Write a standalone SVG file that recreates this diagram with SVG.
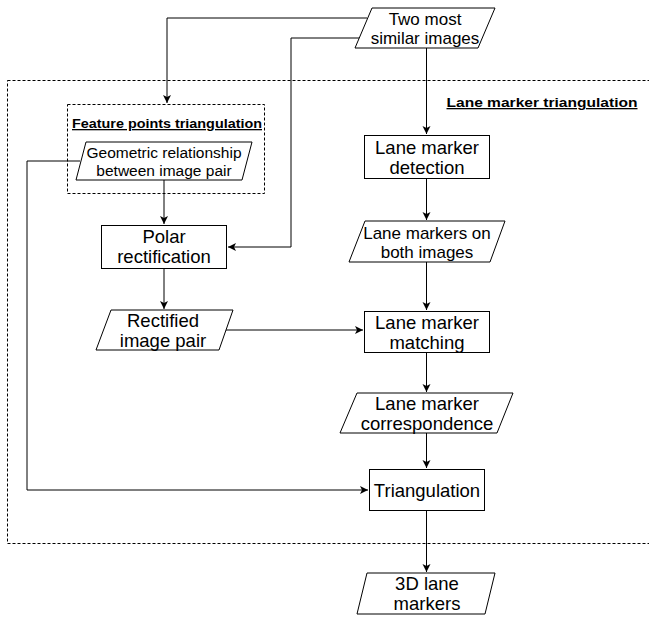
<svg xmlns="http://www.w3.org/2000/svg" width="649" height="625" viewBox="0 0 649 625">
<defs>
<marker id="arr" markerWidth="10" markerHeight="10" refX="8" refY="5" orient="auto" markerUnits="userSpaceOnUse">
<path d="M0,1 L8,5 L0,9 L2,5 Z" fill="#000"/>
</marker>
<style>
.shape{fill:#fff;stroke:#000;stroke-width:1}
.dash{fill:none;stroke:#000;stroke-width:1;stroke-dasharray:3,2}
.conn{fill:none;stroke:#000;stroke-width:1;marker-end:url(#arr)}
text{font-family:"Liberation Sans",Arial,sans-serif;fill:#000;text-anchor:middle}
.t18{font-size:18.5px}
.t17{font-size:17px}
.t15{font-size:15.5px}
.title{font-size:13px;font-weight:bold;text-decoration:underline}
</style>
</defs>
<rect width="649" height="625" fill="#fff"/>
<g id="lane-marker-triangulation-group">
<rect class="dash" x="7.5" y="80.5" width="660" height="463"/>
<text class="title" x="542" y="107" textLength="191" lengthAdjust="spacingAndGlyphs">Lane marker triangulation</text>
</g>
<g id="feature-points-group">
<rect class="dash" x="67.5" y="104.5" width="197" height="89"/>
<text class="title" x="167" y="128" textLength="190" lengthAdjust="spacingAndGlyphs">Feature points triangulation</text>
</g>
<g id="connectors">
<polyline class="conn" points="367,18 167,18 167,103"/>
<polyline class="conn" points="359,38 291,38 291,247 228,247"/>
<polyline class="conn" points="426.5,48 426.5,134"/>
<polyline class="conn" points="80,161 27,161 27,490 368,490"/>
<polyline class="conn" points="164,180 164,224"/>
<polyline class="conn" points="164,268 164,309"/>
<polyline class="conn" points="225,330 363,330"/>
<polyline class="conn" points="426.5,178 426.5,220"/>
<polyline class="conn" points="426.5,262 426.5,310"/>
<polyline class="conn" points="426.5,352 426.5,392"/>
<polyline class="conn" points="426.5,433 426.5,468"/>
<polyline class="conn" points="426.5,510 426.5,572"/>
</g>
<g id="two-most-similar-images">
<polygon class="shape" points="372,8 495,8 478,48 355,48"/>
<text class="t17" x="425" y="25">Two most</text>
<text class="t17" x="425" y="44">similar images</text>
</g>
<g id="geometric-relationship">
<polygon class="shape" points="86,142 252,142 242,180 76,180"/>
<text class="t15" x="164" y="158">Geometric relationship</text>
<text class="t15" x="164" y="176">between image pair</text>
</g>
<g id="polar-rectification">
<rect class="shape" x="101.5" y="225.5" width="125" height="43"/>
<text class="t18" x="164" y="243">Polar</text>
<text class="t18" x="164" y="263">rectification</text>
</g>
<g id="rectified-image-pair">
<polygon class="shape" points="111,310 233,310 219,350 96,350"/>
<text class="t18" x="163" y="327">Rectified</text>
<text class="t18" x="163" y="347">image pair</text>
</g>
<g id="lane-marker-detection">
<rect class="shape" x="364.5" y="135.5" width="125" height="43"/>
<text class="t18" x="427" y="154">Lane marker</text>
<text class="t18" x="427" y="174">detection</text>
</g>
<g id="lane-markers-on-both-images">
<polygon class="shape" points="365,221 505,221 490,262 349,262"/>
<text class="t17" x="427" y="239">Lane markers on</text>
<text class="t17" x="427" y="258">both images</text>
</g>
<g id="lane-marker-matching">
<rect class="shape" x="364.5" y="311.5" width="125" height="41"/>
<text class="t18" x="427" y="329">Lane marker</text>
<text class="t18" x="427" y="349">matching</text>
</g>
<g id="lane-marker-correspondence">
<polygon class="shape" points="357,393 513,393 497,433 340,433"/>
<text class="t18" x="427" y="410">Lane marker</text>
<text class="t18" x="427" y="430">correspondence</text>
</g>
<g id="triangulation">
<rect class="shape" x="369.5" y="469.5" width="115" height="41"/>
<text class="t18" x="427" y="497">Triangulation</text>
</g>
<g id="3d-lane-markers">
<polygon class="shape" points="367,573 495,573 485,614 357,614"/>
<text class="t18" x="427" y="590">3D lane</text>
<text class="t18" x="427" y="610">markers</text>
</g>
</svg>
